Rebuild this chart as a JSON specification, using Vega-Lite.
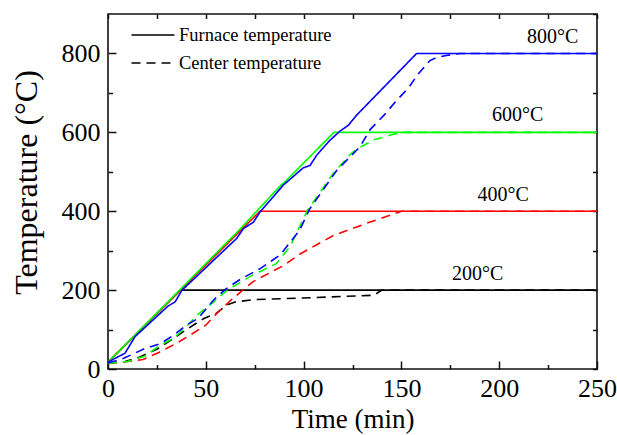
{
  "$schema": "https://vega.github.io/schema/vega-lite/v6.json",
  "width": 489,
  "height": 355,
  "autosize": "none",
  "padding": {"left": 108, "top": 14, "right": 20, "bottom": 66},
  "config": {
    "view": {"stroke": "#111", "strokeWidth": 1.6},
    "font": "Liberation Serif",
    "axis": {"domain": false, "grid": false, "tickColor": "#111", "tickWidth": 1.5, "labelFont": "Liberation Serif", "titleFont": "Liberation Serif", "labelColor": "#000", "titleColor": "#000", "titleFontWeight": "normal"}
  },
  "datasets": {
    "series": [
      {"s":"200","k":"Furnace temperature","t":0,"T":17},{"s":"200","k":"Furnace temperature","t":37,"T":200},{"s":"200","k":"Furnace temperature","t":250,"T":200},
      {"s":"400","k":"Furnace temperature","t":0,"T":17},{"s":"400","k":"Furnace temperature","t":77.7,"T":400},{"s":"400","k":"Furnace temperature","t":250,"T":400},
      {"s":"600","k":"Furnace temperature","t":0,"T":17},{"s":"600","k":"Furnace temperature","t":67,"T":352},{"s":"600","k":"Furnace temperature","t":88,"T":464},{"s":"600","k":"Furnace temperature","t":91,"T":477},{"s":"600","k":"Furnace temperature","t":115.5,"T":600},{"s":"600","k":"Furnace temperature","t":250,"T":600},
      {"s":"800","k":"Furnace temperature","t":0,"T":17},{"s":"800","k":"Furnace temperature","t":3.6,"T":27},{"s":"800","k":"Furnace temperature","t":8.7,"T":40},{"s":"800","k":"Furnace temperature","t":13.8,"T":82},{"s":"800","k":"Furnace temperature","t":30.8,"T":160},{"s":"800","k":"Furnace temperature","t":34.3,"T":170},{"s":"800","k":"Furnace temperature","t":37.7,"T":199},{"s":"800","k":"Furnace temperature","t":63,"T":318},{"s":"800","k":"Furnace temperature","t":65.8,"T":331},{"s":"800","k":"Furnace temperature","t":69.2,"T":356},{"s":"800","k":"Furnace temperature","t":74.3,"T":372},{"s":"800","k":"Furnace temperature","t":77.7,"T":398},{"s":"800","k":"Furnace temperature","t":89.6,"T":466},{"s":"800","k":"Furnace temperature","t":99.8,"T":510},{"s":"800","k":"Furnace temperature","t":103.3,"T":516},{"s":"800","k":"Furnace temperature","t":106.7,"T":542},{"s":"800","k":"Furnace temperature","t":113.5,"T":580},{"s":"800","k":"Furnace temperature","t":118.6,"T":603},{"s":"800","k":"Furnace temperature","t":122.9,"T":618},{"s":"800","k":"Furnace temperature","t":127,"T":643},{"s":"800","k":"Furnace temperature","t":157.8,"T":800},{"s":"800","k":"Furnace temperature","t":250,"T":800},
      {"s":"200","k":"Center temperature","t":0,"T":15},{"s":"200","k":"Center temperature","t":8,"T":18},{"s":"200","k":"Center temperature","t":16,"T":30},{"s":"200","k":"Center temperature","t":25,"T":50},{"s":"200","k":"Center temperature","t":33,"T":76},{"s":"200","k":"Center temperature","t":41,"T":103},{"s":"200","k":"Center temperature","t":49,"T":128},{"s":"200","k":"Center temperature","t":55,"T":140},{"s":"200","k":"Center temperature","t":61,"T":163},{"s":"200","k":"Center temperature","t":65,"T":170},{"s":"200","k":"Center temperature","t":75,"T":176},{"s":"200","k":"Center temperature","t":100,"T":180},{"s":"200","k":"Center temperature","t":136,"T":187},{"s":"200","k":"Center temperature","t":140,"T":200},{"s":"200","k":"Center temperature","t":250,"T":200},
      {"s":"400","k":"Center temperature","t":0,"T":15},{"s":"400","k":"Center temperature","t":10,"T":19},{"s":"400","k":"Center temperature","t":18,"T":24},{"s":"400","k":"Center temperature","t":26,"T":42},{"s":"400","k":"Center temperature","t":35,"T":65},{"s":"400","k":"Center temperature","t":42,"T":86},{"s":"400","k":"Center temperature","t":50,"T":111},{"s":"400","k":"Center temperature","t":56,"T":143},{"s":"400","k":"Center temperature","t":63,"T":175},{"s":"400","k":"Center temperature","t":68,"T":196},{"s":"400","k":"Center temperature","t":74,"T":221},{"s":"400","k":"Center temperature","t":90,"T":263},{"s":"400","k":"Center temperature","t":98,"T":291},{"s":"400","k":"Center temperature","t":115,"T":338},{"s":"400","k":"Center temperature","t":132,"T":369},{"s":"400","k":"Center temperature","t":149,"T":398},{"s":"400","k":"Center temperature","t":150,"T":400},{"s":"400","k":"Center temperature","t":250,"T":400},
      {"s":"600","k":"Center temperature","t":0,"T":15},{"s":"600","k":"Center temperature","t":10,"T":19},{"s":"600","k":"Center temperature","t":19,"T":33},{"s":"600","k":"Center temperature","t":25,"T":55},{"s":"600","k":"Center temperature","t":34,"T":80},{"s":"600","k":"Center temperature","t":40,"T":107},{"s":"600","k":"Center temperature","t":45,"T":134},{"s":"600","k":"Center temperature","t":54,"T":170},{"s":"600","k":"Center temperature","t":61,"T":200},{"s":"600","k":"Center temperature","t":74,"T":238},{"s":"600","k":"Center temperature","t":86,"T":267},{"s":"600","k":"Center temperature","t":93,"T":310},{"s":"600","k":"Center temperature","t":102,"T":402},{"s":"600","k":"Center temperature","t":115,"T":495},{"s":"600","k":"Center temperature","t":124,"T":545},{"s":"600","k":"Center temperature","t":128,"T":560},{"s":"600","k":"Center temperature","t":136,"T":581},{"s":"600","k":"Center temperature","t":146,"T":595},{"s":"600","k":"Center temperature","t":150,"T":600},{"s":"600","k":"Center temperature","t":250,"T":600},
      {"s":"800","k":"Center temperature","t":0,"T":15},{"s":"800","k":"Center temperature","t":8,"T":27},{"s":"800","k":"Center temperature","t":18,"T":50},{"s":"800","k":"Center temperature","t":27,"T":65},{"s":"800","k":"Center temperature","t":33,"T":84},{"s":"800","k":"Center temperature","t":40,"T":111},{"s":"800","k":"Center temperature","t":46,"T":128},{"s":"800","k":"Center temperature","t":54,"T":175},{"s":"800","k":"Center temperature","t":60,"T":202},{"s":"800","k":"Center temperature","t":67.5,"T":227},{"s":"800","k":"Center temperature","t":78,"T":255},{"s":"800","k":"Center temperature","t":88,"T":289},{"s":"800","k":"Center temperature","t":98,"T":352},{"s":"800","k":"Center temperature","t":103,"T":405},{"s":"800","k":"Center temperature","t":117,"T":504},{"s":"800","k":"Center temperature","t":128.8,"T":563},{"s":"800","k":"Center temperature","t":134,"T":607},{"s":"800","k":"Center temperature","t":141,"T":643},{"s":"800","k":"Center temperature","t":147.6,"T":681},{"s":"800","k":"Center temperature","t":153.5,"T":712},{"s":"800","k":"Center temperature","t":158.6,"T":748},{"s":"800","k":"Center temperature","t":164.6,"T":782},{"s":"800","k":"Center temperature","t":168,"T":790},{"s":"800","k":"Center temperature","t":173,"T":795},{"s":"800","k":"Center temperature","t":180,"T":800},{"s":"800","k":"Center temperature","t":250,"T":800}
    ],
    "labels": [
      {"t":227.3,"T":841,"label":"800°C"},
      {"t":209.5,"T":643,"label":"600°C"},
      {"t":202,"T":440,"label":"400°C"},
      {"t":189,"T":242,"label":"200°C"}
    ]
  },
  "layer": [
    {
      "data": {"name": "series"},
      "mark": {"type": "line", "strokeWidth": 1.6, "clip": true},
      "encoding": {
        "x": {"field": "t", "type": "quantitative", "scale": {"domain": [0, 250], "nice": false},
              "axis": {"orient": "bottom", "values": [0, 50, 100, 150, 200, 250], "tickSize": -8, "labelPadding": 14, "labelFontSize": 26, "labelFlush": false, "title": "Time (min)", "titleFontSize": 27, "titlePadding": 5}},
        "y": {"field": "T", "type": "quantitative", "scale": {"domain": [0, 900], "nice": false},
              "axis": {"orient": "left", "values": [0, 200, 400, 600, 800], "tickSize": -8, "labelPadding": 16, "labelFontSize": 26, "labelFlush": false, "title": "Temperature (°C)", "titleFontSize": 32, "titlePadding": 18, "titleY": 168}},
        "color": {"field": "s", "type": "nominal", "scale": {"domain": ["200", "400", "600", "800"], "range": ["#000000", "#FF0000", "#00FF00", "#0000FF"]}, "legend": null},
        "strokeDash": {"field": "k", "type": "nominal", "scale": {"domain": ["Furnace temperature", "Center temperature"], "range": [[1, 0], [9, 6]]},
              "legend": {"title": null, "orient": "none", "legendX": 34, "legendY": 10, "padding": 0, "symbolType": "M-2.15,0H2.15", "symbolSize": 400, "symbolStrokeColor": "#000", "symbolStrokeWidth": 1.5, "labelFontSize": 18.5, "labelFont": "Liberation Serif", "labelColor": "#000", "labelOffset": 15, "rowPadding": 7}}
      }
    },
    {
      "data": {"name": "series"},
      "mark": {"type": "line", "opacity": 0},
      "encoding": {
        "x": {"field": "t", "type": "quantitative", "axis": {"orient": "bottom", "values": [25, 75, 125, 175, 225], "tickSize": -4.5, "labels": false, "title": null}},
        "y": {"field": "T", "type": "quantitative", "axis": {"orient": "left", "values": [100, 300, 500, 700], "tickSize": -4.5, "labels": false, "title": null}}
      }
    },
    {
      "data": {"name": "series"},
      "mark": {"type": "line", "opacity": 0},
      "encoding": {
        "x": {"field": "t", "type": "quantitative", "axis": {"orient": "top", "values": [0, 25, 50, 75, 100, 125, 150, 175, 200, 225, 250], "tickSize": -4.5, "labels": false, "title": null}},
        "y": {"field": "T", "type": "quantitative", "axis": {"orient": "right", "values": [0, 100, 200, 300, 400, 500, 600, 700, 800, 900], "tickSize": -4.5, "labels": false, "title": null}}
      }
    },
    {
      "data": {"name": "labels"},
      "mark": {"type": "text", "font": "Liberation Serif", "fontSize": 20, "align": "center", "baseline": "middle", "color": "#000"},
      "encoding": {
        "x": {"field": "t", "type": "quantitative", "axis": null},
        "y": {"field": "T", "type": "quantitative", "axis": null},
        "text": {"field": "label"}
      }
    }
  ],
  "resolve": {"axis": {"x": "independent", "y": "independent"}}
}
